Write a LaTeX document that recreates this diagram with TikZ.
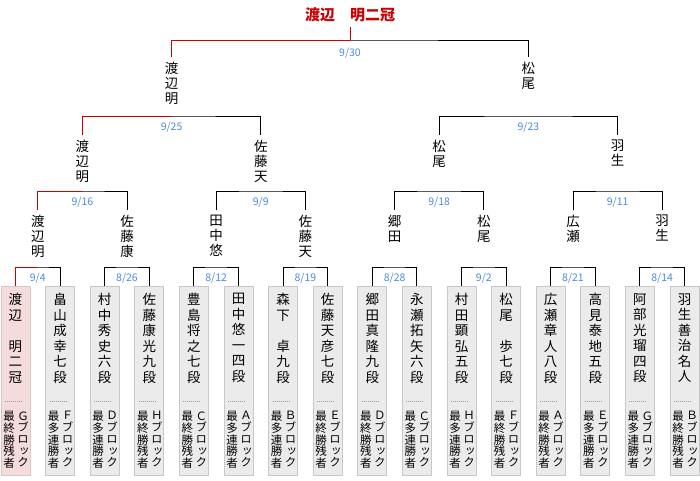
\documentclass[tikz,border=0pt]{standalone}
\usepackage{fontspec}
\setmainfont{Noto Sans CJK JP}
\newfontfamily\vertjp[RawFeature=+vert]{Noto Sans CJK JP}
\usetikzlibrary{positioning}
\definecolor{winred}{HTML}{CC0000}
\definecolor{dateblue}{HTML}{4A8AE0}
\definecolor{boxgray}{HTML}{EBEBEB}
\definecolor{boxline}{HTML}{C8C8C8}
\definecolor{boxpink}{HTML}{F5DCDC}
\definecolor{pinkline}{HTML}{DEC6C6}
\begin{document}
\begin{tikzpicture}[x=1pt,y=-1pt,line width=1pt,
    pbox/.style={draw=boxline,fill=boxgray,minimum width=29pt,minimum height=189pt,anchor=north,inner sep=0pt},
    champbox/.style={pbox,draw=pinkline,fill=boxpink},
    pname/.style={font=\fontsize{13.5}{15.5}\selectfont,align=center,inner sep=0pt,anchor=north},
    pblk/.style={font=\vertjp\fontsize{11.5}{11.7}\selectfont,align=center,inner sep=0pt,anchor=north},
    sepline/.style={draw=black!40,line width=0.8pt,dash pattern=on 1pt off 1pt},
    wname/.style={font=\fontsize{13.5}{15}\selectfont,align=center,inner sep=0pt,outer ysep=5pt,anchor=north},
    dlabel/.style={font=\fontsize{10.5}{10.5}\selectfont,text=dateblue,inner sep=0pt,anchor=north},
    win/.style={draw=winred}]
  \useasboundingbox (0,0) rectangle (700,480);
  % the sixteen block winners
  \foreach \i/\sty/\nm/\blk/\tit in {
      1/champbox/{渡\\辺\\　\\明\\二\\冠}/Ｇ/{最\\終\\勝\\残\\者},
      2/pbox/{畠\\山\\成\\幸\\七\\段}/Ｆ/{最\\多\\連\\勝\\者},
      3/pbox/{村\\中\\秀\\史\\六\\段}/Ｄ/{最\\多\\連\\勝\\者},
      4/pbox/{佐\\藤\\康\\光\\九\\段}/Ｈ/{最\\終\\勝\\残\\者},
      5/pbox/{豊\\島\\将\\之\\七\\段}/Ｃ/{最\\終\\勝\\残\\者},
      6/pbox/{田\\中\\悠\\一\\四\\段}/Ａ/{最\\多\\連\\勝\\者},
      7/pbox/{森\\下\\　\\卓\\九\\段}/Ｂ/{最\\多\\連\\勝\\者},
      8/pbox/{佐\\藤\\天\\彦\\七\\段}/Ｅ/{最\\終\\勝\\残\\者},
      9/pbox/{郷\\田\\真\\隆\\九\\段}/Ｄ/{最\\終\\勝\\残\\者},
      10/pbox/{永\\瀬\\拓\\矢\\六\\段}/Ｃ/{最\\多\\連\\勝\\者},
      11/pbox/{村\\田\\顕\\弘\\五\\段}/Ｈ/{最\\多\\連\\勝\\者},
      12/pbox/{松\\尾\\　\\歩\\七\\段}/Ｆ/{最\\終\\勝\\残\\者},
      13/pbox/{広\\瀬\\章\\人\\八\\段}/Ａ/{最\\終\\勝\\残\\者},
      14/pbox/{高\\見\\泰\\地\\五\\段}/Ｅ/{最\\多\\連\\勝\\者},
      15/pbox/{阿\\部\\光\\瑠\\四\\段}/Ｇ/{最\\多\\連\\勝\\者},
      16/pbox/{羽\\生\\善\\治\\名\\人}/Ｂ/{最\\終\\勝\\残\\者}}{
    \node[\sty] (p\i) at ({15.5+44.6*(\i-1)},286) {};
    \node[pname,below=7pt of p\i.north] {\nm};
    \draw[sepline] ([xshift=-10.5pt,yshift=-115pt]p\i.north) -- ([xshift=6pt,yshift=-115pt]p\i.north);
    \node[pblk] at ([xshift=-6.5pt,yshift=-125pt]p\i.north) {\tit};
    \node[pblk] at ([xshift=7.5pt,yshift=-125pt]p\i.north) {\blk\\ブ\\ロ\\ッ\\ク};
  }
  % first round
  \foreach \k/\d in {1/{9/4},2/{8/26},3/{8/12},4/{8/19},5/{8/28},6/{9/2},7/{8/21},8/{8/14}}{
    \pgfmathtruncatemacro\a{2*\k-1}
    \pgfmathtruncatemacro\b{2*\k}
    \path (p\a.north) -- (p\b.north) coordinate[midway,yshift=19pt] (q\k);
    \draw (p\a.north) |- (q\k) -| (p\b.north);
    \node[dlabel,below=6pt of q\k] {\d};
  }
  \draw[win] (p1.north) |- (q1);
  \foreach \k/\nm in {1/{渡\\辺\\明},2/{佐\\藤\\康},3/{田\\中\\悠},4/{佐\\藤\\天},
      5/{郷\\田},6/{松\\尾},7/{広\\瀬},8/{羽\\生}}
    \node[wname] (w\k) at ([yshift=57pt]q\k) {\nm};
  % second round
  \foreach \j/\d in {1/{9/16},2/{9/9},3/{9/18},4/{9/11}}{
    \pgfmathtruncatemacro\a{2*\j-1}
    \pgfmathtruncatemacro\b{2*\j}
    \path (w\a.north) -- (w\b.north) coordinate[midway,yshift=19pt] (s\j);
    \draw (w\a.north) |- (s\j) -| (w\b.north);
    \node[dlabel,below=6pt of s\j] {\d};
  }
  \draw[win] (w1.north) |- (s1);
  \foreach \j/\nm in {1/{渡\\辺\\明},2/{佐\\藤\\天},3/{松\\尾},4/{羽\\生}}
    \node[wname] (u\j) at ([yshift=56pt]s\j) {\nm};
  % semifinals
  \foreach \j/\d in {1/{9/25},2/{9/23}}{
    \pgfmathtruncatemacro\a{2*\j-1}
    \pgfmathtruncatemacro\b{2*\j}
    \path (u\a.north) -- (u\b.north) coordinate[midway,yshift=19pt] (t\j);
    \draw (u\a.north) |- (t\j) -| (u\b.north);
    \node[dlabel,below=6pt of t\j] {\d};
  }
  \draw[win] (u1.north) |- (t1);
  \node[wname] (v1) at ([yshift=59pt]t1) {渡\\辺\\明};
  \node[wname] (v2) at ([yshift=59pt]t2) {松\\尾};
  % final
  \path (v1.north) -- (v2.north) coordinate[midway,yshift=17pt] (f);
  \draw (v1.north) |- (f) -| (v2.north);
  \node[dlabel,below=8pt of f] {9/30};
  \draw[win] (v1.north) |- (f);
  \node[font=\fontsize{15}{15}\selectfont\bfseries,text=winred,inner sep=0pt,outer ysep=4.5pt]
    (champ) at ([yshift=25pt]f) {渡辺　明二冠};
  \draw[win] (f) -- (champ);
\end{tikzpicture}
\end{document}
